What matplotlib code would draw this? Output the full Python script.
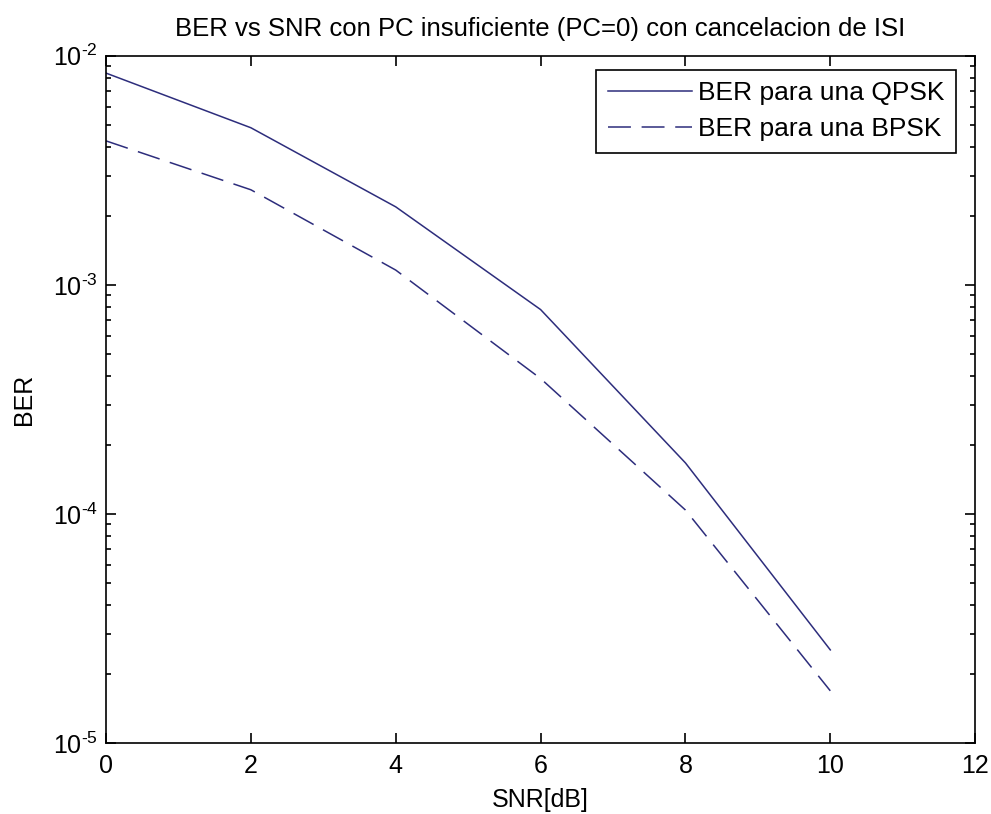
import numpy as np
import matplotlib
matplotlib.use('Agg')
import matplotlib.pyplot as plt
from matplotlib.ticker import LogLocator, FixedLocator

# SNR en dB y BER simulada para cada modulacion
snr_db = [0, 2, 4, 6, 8, 10]
ber_qpsk = [8.4e-3, 4.85e-3, 2.19e-3, 7.8e-4, 1.67e-4, 2.55e-5]
ber_bpsk = [4.25e-3, 2.6e-3, 1.16e-3, 3.9e-4, 1.04e-4, 1.69e-5]

x_ticks = [0, 2, 4, 6, 8, 10, 12]
y_ticks = [1e-5, 1e-4, 1e-3, 1e-2]

plt.rcParams['font.family'] = ['Liberation Sans', 'DejaVu Sans']
plt.rcParams['mathtext.fontset'] = 'custom'
plt.rcParams['mathtext.rm'] = 'Liberation Sans'
plt.rcParams['mathtext.it'] = 'Liberation Sans'

color = '#2d2d7c'
fs = 18

fig = plt.figure(figsize=(9.91, 8.14), dpi=100)
ax = fig.add_axes([0.107, 0.0872, 0.877, 0.8443])

ax.semilogy(snr_db, ber_qpsk, '-', color=color, lw=1.1, label='BER para una QPSK')
ax.semilogy(snr_db, ber_bpsk, '--', color=color, lw=1.1, dashes=(15, 7), label='BER para una BPSK')

ax.set_xlim(0, 12)
ax.set_ylim(1e-5, 1e-2)
ax.xaxis.set_major_locator(FixedLocator(x_ticks))
ax.yaxis.set_major_locator(FixedLocator(y_ticks))
ax.yaxis.set_minor_locator(LogLocator(base=10, subs=np.arange(2, 10)))
ax.set_yticklabels([r'$10^{\text{-}%d}$' % -int(np.log10(v)) for v in y_ticks])

ax.tick_params(which='both', direction='in', top=True, right=True, labelsize=fs, width=1.2)
ax.tick_params(axis='x', pad=8)
ax.tick_params(axis='y', pad=6)
ax.tick_params(which='major', length=7)
ax.tick_params(which='minor', length=3.5)
for s in ax.spines.values():
    s.set_linewidth(1.2)

ax.set_title('BER vs SNR con PC insuficiente (PC=0) con cancelacion de ISI', fontsize=18.5, pad=14)
ax.set_xlabel('SNR[dB]', fontsize=fs, labelpad=7)
ax.set_ylabel('BER', fontsize=fs, labelpad=12)

leg = ax.legend(loc='upper right', bbox_to_anchor=(0.978, 0.98), borderaxespad=0,
                fontsize=19, fancybox=False, framealpha=1, edgecolor='black',
                handlelength=3.2, handletextpad=0.2, labelspacing=0.45, borderpad=0.45)
leg.get_frame().set_linewidth(1.2)

fig.savefig('out.png', dpi=100)
